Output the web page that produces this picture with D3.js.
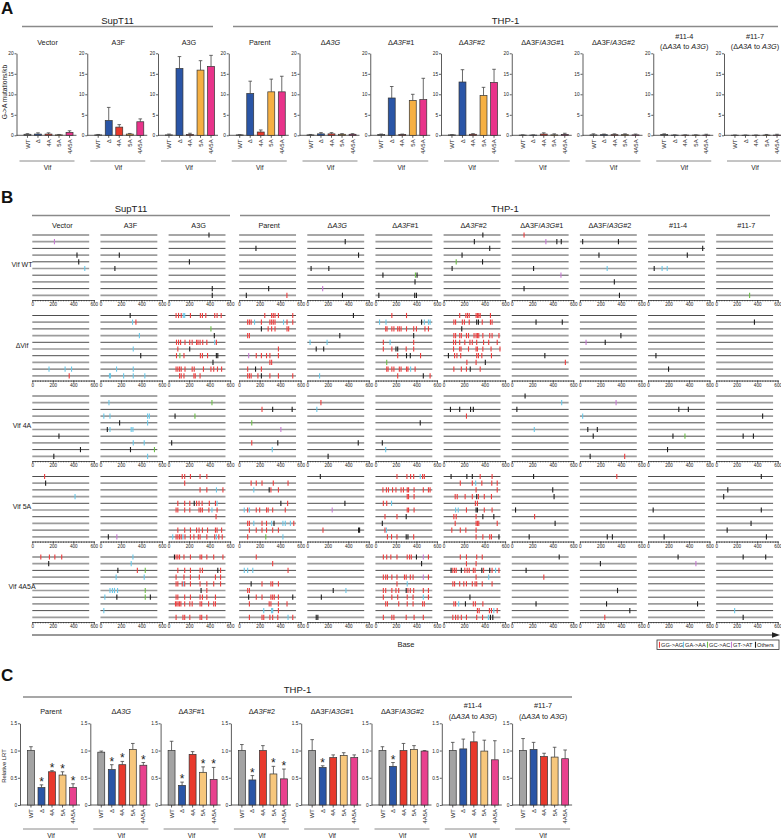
<!DOCTYPE html>
<html>
<head>
<meta charset="utf-8">
<script src="https://d3js.org/d3.v7.min.js"></script>
<style>
body { margin: 0; background: #fff; }
svg { font-family: Arial, "Liberation Sans", Helvetica, sans-serif; }
</style>
</head>
<body>
<div id="chart"></div>
<script>

// Panel A / C : per-genotype bars
var genotypes = ["WT", "Δ", "4A", "5A", "4A5A"];

var aCells = ["Vector", "A3F", "A3G", "Parent", "Δ<i>A3G</i>", "Δ<i>A3F</i>#1", "Δ<i>A3F</i>#2",
  "ΔA3F/<i>A3G</i>#1", "ΔA3F/<i>A3G</i>#2", "#11-4\n(Δ<i>A3A</i> to <i>A3G</i>)", "#11-7\n(Δ<i>A3A</i> to <i>A3G</i>)"];
var aMeans = [
  [0.25, 0.3, 0.3, 0.1, 0.7],
  [0.1, 3.6, 2.0, 0.3, 3.3],
  [0.1, 16.3, 0.2, 15.9, 16.8],
  [0.1, 10.2, 0.8, 10.6, 10.6],
  [0.1, 0.35, 0.35, 0.25, 0.25],
  [0.2, 9.1, 0.2, 8.5, 8.7],
  [0.1, 13.0, 0.25, 9.7, 12.9],
  [0.05, 0.05, 0.3, 0.1, 0.2],
  [0.1, 0.15, 0.15, 0.15, 0.1],
  [0.2, 0.05, 0.05, 0.05, 0.05],
  [0.02, 0.02, 0.02, 0.05, 0.05]
];
var aErrs = [
  [0.15, 0.3, 0.3, 0.1, 0.4],
  [0.1, 3.2, 0.6, 0.15, 0.7],
  [0.2, 2.9, 0.3, 2.3, 2.7],
  [0.05, 3.0, 0.5, 3.1, 3.8],
  [0.1, 0.3, 0.3, 0.15, 0.15],
  [0.1, 2.8, 0.1, 1.5, 5.2],
  [0.05, 3.0, 0.15, 2.0, 3.2],
  [0.05, 0.05, 0.3, 0.25, 0.3],
  [0.25, 0.15, 0.2, 0.2, 0.2],
  [0.15, 0.05, 0.05, 0.05, 0.2],
  [0.05, 0.05, 0.05, 0.15, 0.2]
];
var aTicks = [0, 5, 10, 15, 20];

var cCells = aCells.slice(3);
var cMeans = [
  [1.0, 0.32, 0.61, 0.55, 0.32],
  [0.97, 0.65, 0.74, 1.02, 0.73],
  [1.0, 0.36, 0.93, 0.60, 0.47],
  [1.0, 0.46, 1.0, 0.57, 0.48],
  [1.0, 0.69, 0.87, 0.91, 0.87],
  [1.0, 0.71, 1.0, 1.02, 0.99],
  [1.0, 1.03, 1.16, 0.99, 0.83],
  [1.0, 1.02, 0.89, 0.88, 0.85]
];
var cErrs = [
  [0.07, 0.05, 0.02, 0.06, 0.07],
  [0.02, 0.09, 0.06, 0.11, 0.05],
  [0.17, 0.06, 0.05, 0.10, 0.22],
  [0.11, 0.08, 0.09, 0.14, 0.18],
  [0.20, 0.03, 0.05, 0.05, 0.05],
  [0.07, 0.07, 0.13, 0.07, 0.01],
  [0.15, 0.18, 0.18, 0.20, 0.35],
  [0.22, 0.13, 0.06, 0.18, 0.16]
];
var cStars = [
  [0, 1, 1, 1, 1],
  [0, 1, 1, 0, 1],
  [0, 1, 0, 1, 1],
  [0, 1, 0, 1, 1],
  [0, 1, 0, 0, 0],
  [0, 1, 0, 0, 0],
  [0, 0, 0, 0, 0],
  [0, 0, 0, 0, 0]
];
var cTicks = [0, 0.5, 1.0, 1.5];

var aColors = ["#a0a0a0", "#2a55a6", "#e8392c", "#f6b043", "#e8338a"];
var cColors = ["#a3a3a3", "#2a55a6", "#e8392c", "#f7c77c", "#e8418e"];

// Panel B : mutation positions (base) per sequence line, "line:typePos ..."
// r GG->AG, c GA->AA, g GC->AC, t GT->AT, k others
var bCols = ["Vector", "A3F", "A3G", "Parent", "Δ<i>A3G</i>", "Δ<i>A3F</i>#1", "Δ<i>A3F</i>#2",
  "ΔA3F/<i>A3G</i>#1", "ΔA3F/<i>A3G</i>#2", "#11-4", "#11-7"];
var bRows = ["Vif WT", "ΔVif", "Vif 4A", "Vif 5A", "Vif 4A5A"];
var bTicks = [0, 200, 400, 600];

var bWT = [
  "2:t216;4:k436;5:k453;6:c512",
  "4:k184;6:k141",
  "1:k394;5:k203;9:k426;10:k426",
  "3:k164;9:k288;10:k70 r466",
  "2:k370;4:k500;6:k37 k210;9:t150;10:k343",
  "7:k73 g390 k406;8:k386;10:k33 k383 k400",
  "1:k383;2:k300;3:k450;4:k180;5:g123 k380;6:k83",
  "1:r120;2:t333 k440 k483;6:k213;7:t480;9:k120",
  "2:k27 k376;4:k186;6:c266;8:k336;10:k386",
  "3:k533;4:k383;6:k60 c137 c187",
  "10:g326"
];
var bDVif = [
  "9:c163 c320 c383;10:r360",
  "1:k290;2:c313 r346;4:c380;6:c320;7:k393;9:c157 c320;10:c88 c98 c226 c320 c433",
  "1:r73 r97 r123 c143 c157 r213 r310 r330 r363 r450 r473 r513;3:g413;4:k446;5:r77 r97 r117 r160 r206 r230 r273 r287 r307 r333 r373 c450 r466;6:r90 k206;7:r77 g110 r150 r310 r330 r380 k466 k480;8:k433;9:r73 r90 r107 r123 r160 r230 r250 r340 r413 r440 r477 r517;10:r107 r123 r150 r247 r260 r307",
  "1:r250 r317 r333 r350 r383 r523;2:r83 r100 r117 c150 r217 r300 r317 r333 r350 c433 r467 r523;3:k217 r283 r317 r350 r467 r483;4:r83 r100;6:r383;7:t93 r167 r217 r267 r300 r383;8:r300 r317;9:r83 k160 r217;10:r83 r100 r117 r183 k217 r300 r383 r523",
  "1:k450;4:k317;5:c27 c193;6:k87 k160;10:c120",
  "1:r160 r303;2:c40 c103 k450 c477 c517 c533;3:r100 r113 r160 r180 r217 r233 r250 r303 r373 r400 r483 r517;4:k373;5:r77 c143 r373;6:r77 r160 k200 k217 r300 r373;7:r217 k303 k340 r440;8:g110;9:r110 r123 r160 r180 r233 r250 r303 r317 c343 r387;10:r217 k467 r533",
  "1:r157 r217 r233 r250 r317 r330 r343 r357 r457;2:r100 r117 r183 r203 r250 k323 k340 r377 r457 r473;3:k177;4:r100 r117 r157 r173 r223 r243 r297 r317 r330 r343 r383 r450 r473 r540;5:r97 r117 r157 r207 r257 r280 r323 r390 r440 r523;6:r97 r157 r170 r243 r317 r330 r383 r463 r550;7:k47 r107 r130 r167 r323 r340 r373 r467;8:r227 r317 k407;9:r100 r173 r223 k260 r357",
  "2:k237 k493;7:k323;8:r523",
  "4:k400;5:t60 k247",
  "7:k77;9:k200",
  "2:k373"
];
var b4A = [
  "7:k260;9:k470;10:k210",
  "2:c83;4:c33 c93 c460 c477;5:k187 c460;6:k67 c93 c300 c317;8:c320 c427;9:k293 g527;10:c460",
  "2:g423;4:k63 g257;8:k30",
  "3:r223 k327 k517;5:g123;6:t407;8:r123 k377;9:c323",
  "2:r133;3:c93;8:k497;10:k203",
  "5:k437;8:k67;9:c100",
  "3:k67 k157 k263 k290;4:r223",
  "1:k130;2:c487;3:k50;6:c220",
  "2:t353;4:c27;6:k77 k170;7:k130;10:k100 r437",
  "3:k300 k393;7:k243 g360;9:k190",
  "4:k453;7:k263 k363"
];
var b5A = [
  "1:r120;2:k130;4:c417",
  "10:k77 t160",
  "1:r133 r157 r213 r307 r373;2:r157;3:r307 r373 c467 r530;5:r90 r157 r207 k250 r273 r297 r327 r397 r457 c473;6:r73 r90 r157 r207 r297 r313 r330 r393 c423 r473;7:r463;9:r90 r157 r213 r273 r297 r330 r380 r457 r473 r517;10:c40 r73 r90 r107 r123 c140 r160 r213 r247 r290 r307 r373 r450 c467 r490 r523",
  "2:r117 r167 r223 r333 r477;3:c143 k293 r310 r383;5:k407 r473;6:c50 r83 c100 r167 r200 r267 r283 r327 r450;8:r83 r100 c143 r223 r267 c317 k340 c427 c450 c500 r533;9:r100 r167 r223 r267 r327 r383;10:r83 g260 c427",
  "1:k127;5:k367;6:t243;9:r153 k500 k510",
  "1:r210 r307 r343 r373 c437 r460 r477;3:r73 r107 r127 r167 r200 r250 r273 r310 r323 r377 r467 r517 r533;4:r310 r323 r377;5:r77 r110 c157;6:r310 r323 r377;7:r93 r210 k300;8:k67;9:r93 c107;10:r117 r157 r210 k300 k317 r373",
  "1:k73 k227 k280 r357 r473;2:r163 r280 c313 r373 r470 r523;3:r317 r523;4:r113 r133 r210 r280 k323 r340 r397 r467;5:r310 r330;6:c117 c143 r223 k317 k330 r397 r473;7:r100 r123 r317 k383 k490;8:r113 r317 r330 r343 r523;9:r80 r163 r217 r317;10:r317 r383 r450 r467 k540",
  "1:k213;3:k400;4:k413;6:k37;7:r223;8:k423;10:k170",
  "1:r360;10:k267 k317",
  "6:k50;10:k157",
  "1:k440;3:k113;4:k73;6:k440;8:k340;9:k107;10:k490"
];
var b4A5A = [
  "1:r83 r167 r220 r287;2:k160",
  "1:c317;2:c300;3:k170 r360 g437;4:c153 c427;6:c93 c117 c137 c167 g437;7:c43 k160 g437 k487;9:c33",
  "1:k57 r73 r90 r107 r150 r213 r307 r323 r373 r440 r530;3:r90 r157 r213 r307 r330 k480 r507;4:r73 r150 r213 r300 r457 r507;5:r73 r90 r133 c147 r157 r213 r307 r373 r440 r507;6:k317 r373;7:r73 r90 r157 r213 r307 r330 r373 r457;8:r67 r80 r93 r107 r120 r157 r207 r230 r307 r323 r390 r440 r457;10:r73 r140 r157 r207 r307 r323 r373",
  "1:r167;2:r327;3:c50 c83 c133 r477;5:k117 r223 r310 r327 r383;6:r83 r100;7:k93 r167 r223 r310 r327 r343 r383 k523;8:r100 r293 r310 r383 r467;9:c240 c317 c327 r383;10:r100 r223 r240 r300 r327 r377 c477 r523",
  "6:k253 c377;7:k137;10:k87 k103",
  "1:r77 r110 r150 r210 r310 r333 r350 k400 t467 r517;2:k450;4:r77 r100 r117 r160 r210 r283 r300 r340 r367 t467 r517;5:r210 c310;6:r77 r100 r160 r200 r227 k300 r317 r340 r373 r467 r517;7:r77 r160 r217 r310 r367 c467 r517;8:r100 r117 r227 r310 r367 r460 r477;10:r77 r160 r180 r300 r377 r467",
  "1:r163 r223 r323 r377;2:r223 r317;3:k73 r90 r107 r123 k173 r207 r230 r250 r290 r307 k373 r390 k450 r473 c507 r540;4:r317 c440;5:r90 r107 r157 r197 r223 r280 r307 r323 r377 r473;7:k257;8:r100 r117 c147 k213 r290 r310 r383;9:r330 r347 r447 r467 c490 r523;10:r90 r117 r140 r173 r223 r323 r380 c437 k457 k480",
  "1:k463;3:k140;4:r313;8:k237",
  "2:k200;6:k367;8:k260;9:k487;10:r243",
  "1:k293;2:t467;8:k483",
  "1:k263 k483;9:c180;10:k263"
];

var legendItems = [["r", "GG->AG"], ["c", "GA->AA"], ["g", "GC->AC"], ["t", "GT->AT"], ["k", "Others"]];
var mutColors = { r: "#ee3e3e", c: "#6ac8e8", g: "#6dbd48", t: "#c77ad2", k: "#1e1e1e" };


var svg = d3.select("#chart").append("svg")
  .attr("width", 781)
  .attr("height", 839);

function addTitle(x, y, text, size, step) {
  text.split("\n").forEach(function (line, k) {
    var t = svg.append("text")
      .attr("x", x).attr("y", y + k * step)
      .attr("text-anchor", "middle")
      .attr("font-size", size)
      .attr("fill", "#222");
    line.split(/(<i>.*?<\/i>)/).forEach(function (part) {
      if (!part) return;
      var it = part.indexOf("<i>") === 0;
      t.append("tspan")
        .attr("font-style", it ? "italic" : null)
        .text(it ? part.slice(3, -4) : part);
    });
  });
}

function header(x1, x2, ty, ly, text) {
  svg.append("text").attr("x", (x1 + x2) / 2).attr("y", ty)
    .attr("text-anchor", "middle").attr("font-size", 9.5).attr("fill", "#222").text(text);
  svg.append("line").attr("x1", x1).attr("x2", x2).attr("y1", ly).attr("y2", ly)
    .attr("stroke", "#8a8a8a").attr("stroke-width", 1.3);
}

function styleAxis(g, size) {
  g.attr("font-size", size).attr("font-family", null);
  g.selectAll("path, line").attr("stroke", "#333").attr("stroke-width", 0.8);
  g.selectAll("text").attr("fill", "#222");
}

function barPanel(ax, y, means, errs, colors, stars, ticks, fmt, vifY) {
  var x = d3.scaleBand().domain(genotypes)
    .range([ax + 5.7, ax + 58.3]).paddingInner(0.34).paddingOuter(0.17);
  var g = svg.append("g");

  g.append("g").attr("transform", "translate(" + ax + ",0)")
    .call(d3.axisLeft(y).tickValues(ticks).tickFormat(fmt).tickSize(2).tickPadding(0.8).tickSizeOuter(0))
    .call(styleAxis, 4.8);

  var xa = g.append("g").attr("transform", "translate(0," + y(0) + ")")
    .call(d3.axisBottom(x).tickSize(2.5).tickSizeOuter(0))
    .call(styleAxis, 6);
  xa.select(".domain").attr("d", "M" + ax + ",0H" + (ax + 60));
  xa.selectAll("text")
    .attr("transform", "rotate(-90)")
    .attr("x", -4).attr("y", 0).attr("dy", "0.35em")
    .style("text-anchor", "end");

  g.selectAll("rect.bar").data(genotypes).join("rect")
    .attr("class", "bar")
    .attr("x", function (d) { return x(d); })
    .attr("y", function (d, i) { return y(means[i]); })
    .attr("width", x.bandwidth())
    .attr("height", function (d, i) { return y(0) - y(means[i]); })
    .attr("fill", function (d, i) { return colors[i]; })
    .attr("stroke", "#333").attr("stroke-width", 0.7);

  var cx = function (d) { return x(d) + x.bandwidth() / 2; };
  g.selectAll("line.err").data(genotypes).join("line")
    .attr("class", "err")
    .attr("x1", cx).attr("x2", cx)
    .attr("y1", function (d, i) { return y(means[i]); })
    .attr("y2", function (d, i) { return y(means[i] + errs[i]); })
    .attr("stroke", "#444").attr("stroke-width", 0.8);
  g.selectAll("line.cap").data(genotypes).join("line")
    .attr("class", "cap")
    .attr("x1", function (d) { return cx(d) - 1.8; })
    .attr("x2", function (d) { return cx(d) + 1.8; })
    .attr("y1", function (d, i) { return y(means[i] + errs[i]); })
    .attr("y2", function (d, i) { return y(means[i] + errs[i]); })
    .attr("stroke", "#444").attr("stroke-width", 0.8);

  if (stars) {
    g.selectAll("text.star").data(genotypes.filter(function (d, i) { return stars[i]; })).join("text")
      .attr("class", "star")
      .attr("x", cx)
      .attr("y", function (d) { var i = genotypes.indexOf(d); return y(means[i] + errs[i]) + 1; })
      .attr("text-anchor", "middle").attr("font-size", 12).attr("fill", "#222")
      .text("*");
  }

  g.append("line").attr("x1", ax + 3).attr("x2", ax + 58).attr("y1", vifY).attr("y2", vifY)
    .attr("stroke", "#8a8a8a").attr("stroke-width", 1);
  g.append("text").attr("x", ax + 31).attr("y", vifY + 8.5)
    .attr("text-anchor", "middle").attr("font-size", 6.5).attr("fill", "#222").text("Vif");
}

function letter(t, x, y) {
  svg.append("text").attr("x", x).attr("y", y).attr("font-size", 17)
    .attr("font-weight", "bold").attr("fill", "#111").text(t);
}

// ---------- A ----------
letter("A", 1, 14);
header(22, 213, 23.5, 26.5, "SupT11");
header(233, 778, 23.5, 26.5, "THP-1");

var yA = d3.scaleLinear().domain([0, 20]).range([135.3, 53.3]);
aCells.forEach(function (name, i) {
  var ax = 16.5 + 70.75 * i;
  var two = name.indexOf("\n") >= 0;
  addTitle(ax + 31, two ? 38.5 : 45, name, 7.3, 10);
  barPanel(ax, yA, aMeans[i], aErrs[i], aColors, null, aTicks, d3.format("d"), 161);
});
svg.append("text")
  .attr("transform", "translate(6.8,92) rotate(-90)")
  .attr("text-anchor", "middle").attr("font-size", 6.6).attr("fill", "#222")
  .text("G->A mutations/kb");

// ---------- B ----------
letter("B", 1, 203);
header(32, 230, 212, 215.5, "SupT11");
header(240, 770, 212, 215.5, "THP-1");

function parseCell(str) {
  var out = [];
  if (!str) return out;
  str.split(";").forEach(function (seg) {
    var p = seg.split(":");
    var line = +p[0] - 1;
    p[1].trim().split(/\s+/).forEach(function (tok) {
      out.push({ line: line, type: tok[0], pos: +tok.slice(1) });
    });
  });
  return out;
}

function bColX(j) { return 32.3 + 68.15 * j + (j >= 3 ? 2.4 : 0); }

bCols.forEach(function (name, j) {
  addTitle(bColX(j) + 30, 228, name, 7.3, 10);
});

[bWT, bDVif, b4A, b5A, b4A5A].forEach(function (rowArr, r) {
  var top = 235 + 80.5 * r;
  var ly = d3.scalePoint().domain(d3.range(10)).range([top, top + 60.3]);

  svg.append("text").attr("x", 22).attr("y", top + 32)
    .attr("text-anchor", "middle").attr("font-size", 7).attr("fill", "#222")
    .text(bRows[r]);

  rowArr.forEach(function (cell, j) {
    var x0 = bColX(j);
    var xs = d3.scaleLinear().domain([0, 600]).range([x0, x0 + 61.5]);
    var g = svg.append("g");

    g.selectAll("line.seq").data(d3.range(10)).join("line")
      .attr("class", "seq")
      .attr("x1", xs(0)).attr("x2", xs(555))
      .attr("y1", function (d) { return ly(d); })
      .attr("y2", function (d) { return ly(d); })
      .attr("stroke", function (d) { return d % 2 ? "#9c9c9c" : "#3a3a3a"; })
      .attr("stroke-width", function (d) { return d % 2 ? 1.7 : 0.9; });

    g.selectAll("line.mut").data(parseCell(cell)).join("line")
      .attr("class", "mut")
      .attr("x1", function (d) { return xs(d.pos); })
      .attr("x2", function (d) { return xs(d.pos); })
      .attr("y1", function (d) { return ly(d.line) - 2.6; })
      .attr("y2", function (d) { return ly(d.line) + 2.6; })
      .attr("stroke", function (d) { return mutColors[d.type]; })
      .attr("stroke-width", 1.1);

    var ay = top + 65;
    g.append("g").attr("transform", "translate(0," + ay + ")")
      .call(d3.axisBottom(xs).tickValues(d3.range(0, 601, 25)).tickFormat("").tickSize(1.3).tickSizeOuter(0))
      .call(styleAxis, 4.6);
    g.append("g").attr("transform", "translate(0," + ay + ")")
      .call(d3.axisBottom(xs).tickValues(bTicks).tickFormat(d3.format("d")).tickSize(2.2).tickPadding(1).tickSizeOuter(0))
      .call(styleAxis, 4.6)
      .select(".domain").remove();
  });
});

// base arrow
svg.append("line").attr("x1", 32).attr("x2", 773).attr("y1", 635).attr("y2", 635)
  .attr("stroke", "#333").attr("stroke-width", 1);
svg.append("path").attr("d", "M772,632.3L780,635L772,637.7Z").attr("fill", "#222");
svg.append("text").attr("x", 406).attr("y", 647).attr("text-anchor", "middle")
  .attr("font-size", 7.5).attr("fill", "#222").text("Base");

// legend
var lg = svg.append("g").attr("transform", "translate(657,640)");
lg.append("rect").attr("width", 122).attr("height", 9.5)
  .attr("fill", "none").attr("stroke", "#333").attr("stroke-width", 0.8);
legendItems.forEach(function (it, k) {
  var lx = 2.5 + k * 24;
  lg.append("line").attr("x1", lx).attr("x2", lx).attr("y1", 1.8).attr("y2", 7.7)
    .attr("stroke", mutColors[it[0]]).attr("stroke-width", 1.1);
  lg.append("text").attr("x", lx + 1.6).attr("y", 7).attr("font-size", 5.6)
    .attr("fill", "#222").text(it[1]);
});

// ---------- C ----------
letter("C", 1, 681);
header(23, 572, 693, 697, "THP-1");

var yC = d3.scaleLinear().domain([0, 1.5]).range([805, 723.3]);
cCells.forEach(function (name, i) {
  var ax = 20 + 70.3 * i;
  var two = name.indexOf("\n") >= 0;
  addTitle(ax + 31, two ? 707.5 : 714, name, 7.3, 11);
  barPanel(ax, yC, cMeans[i], cErrs[i], cColors, cStars[i], cTicks,
    function (d) { return d === 0 ? "0" : d3.format(".1f")(d); }, 829);
});
svg.append("text")
  .attr("transform", "translate(6,766) rotate(-90)")
  .attr("text-anchor", "middle").attr("font-size", 5.8).attr("fill", "#222")
  .text("Relative LRT");

</script>
</body>
</html>
